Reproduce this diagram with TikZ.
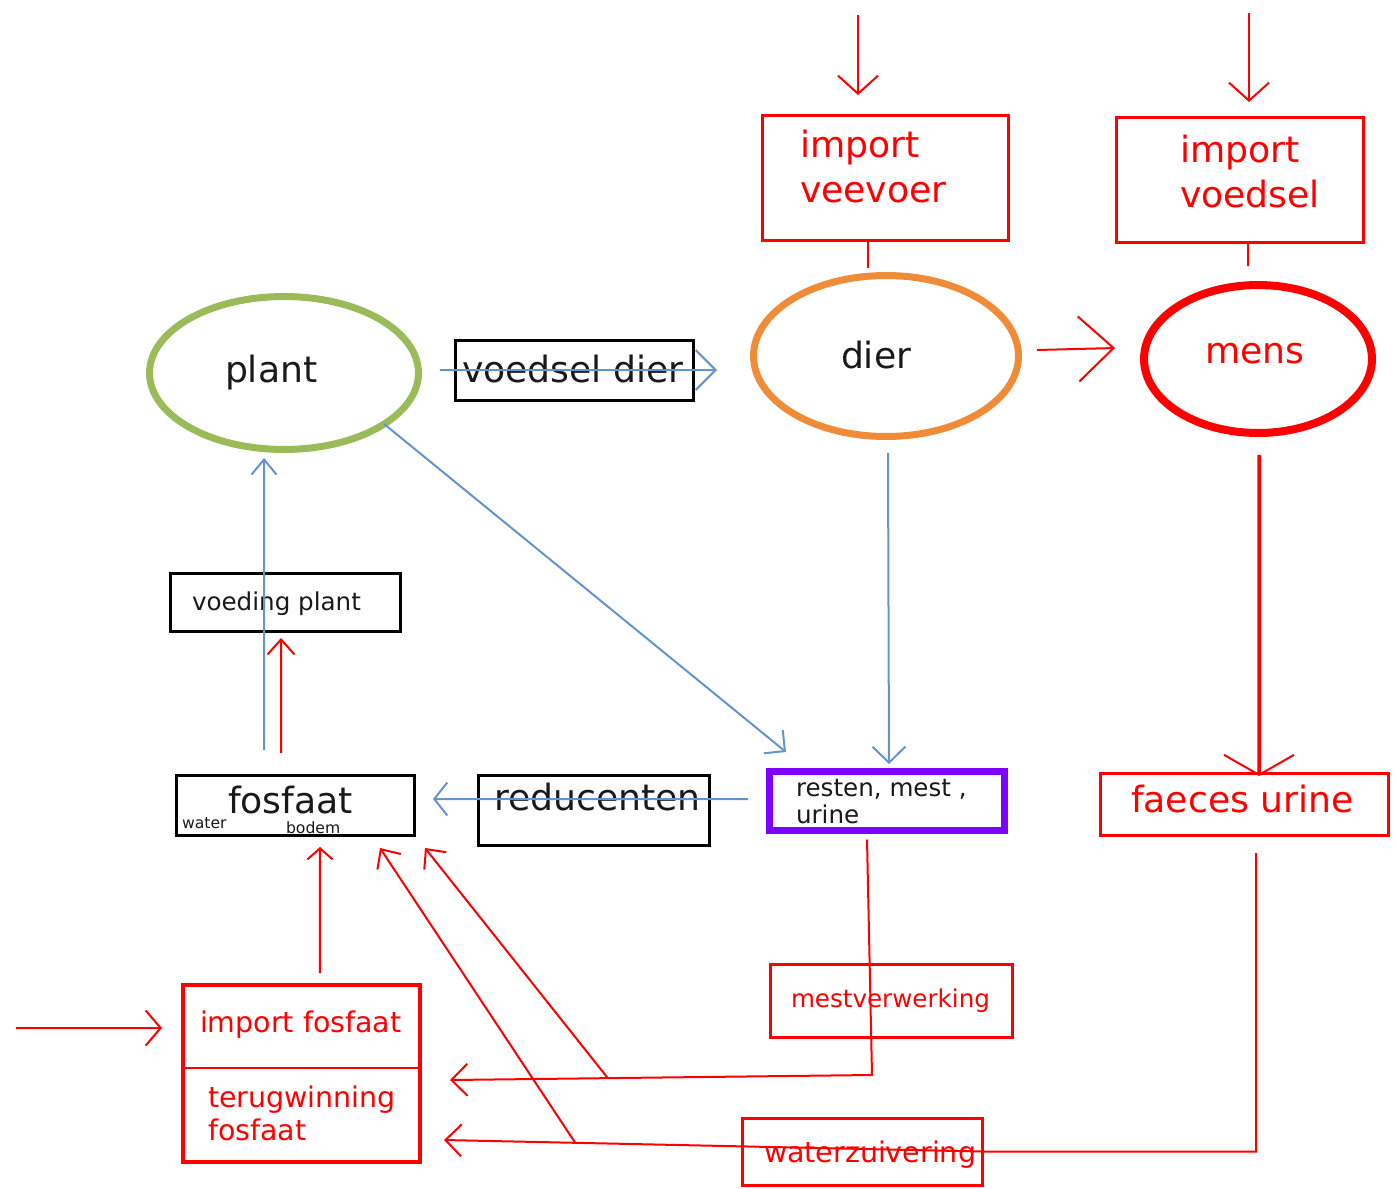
\documentclass[tikz,border=0pt]{standalone}
\usepackage{fontspec}
\setmainfont{DejaVu Sans}
\usetikzlibrary{arrows.meta,shapes.geometric,fit}
\definecolor{pgreen}{RGB}{155,187,89}
\definecolor{porange}{RGB}{240,140,55}
\definecolor{pblue}{RGB}{100,148,205}
\definecolor{ppurple}{RGB}{128,0,255}
\definecolor{pred}{RGB}{255,0,0}
\definecolor{ptext}{RGB}{25,25,25}
\tikzset{
 box/.style={draw=black, line width=0.6mm, inner sep=0pt, outer sep=0pt},
 rbox/.style={draw=pred, line width=0.6mm, inner sep=0pt, outer sep=0pt},
 area/.style={inner sep=0pt, outer sep=0pt},
 ell/.style={ellipse, inner sep=0pt, outer sep=0pt},
 big/.style={font=\fontsize{20.6pt}{24pt}\selectfont},
 mid/.style={font=\fontsize{16.2pt}{19pt}\selectfont},
 small/.style={font=\fontsize{14pt}{16pt}\selectfont},
 tiny/.style={font=\fontsize{8.9pt}{10pt}\selectfont},
 txt/.style={anchor=base west, inner sep=0pt, outer sep=0pt, text=ptext},
 rtxt/.style={txt, text=pred},
 bline/.style={draw=pblue, line width=0.4mm},
 rline/.style={draw=pred, line width=0.4mm},
 barb/.style 2 args={-{Straight Barb[length=#1,width=#2,line width=0.4mm]}},
}
\begin{document}
\begin{tikzpicture}[x=0.02cm,y=-0.02cm]
\useasboundingbox (0,0) rectangle (1397,1188);

% ellipses
\node[ell, draw=pgreen, line width=1.4mm, minimum width=5.38cm, minimum height=3.06cm] (plant) at (284,373) {};
\node[txt,big] (plantt) at (225,382) {plant};
\node[ell, draw=porange, line width=1.4mm, minimum width=5.3cm, minimum height=3.22cm] (dier) at (886,356) {};
\node[txt,big] (diert) at (841,368) {dier};
\node[ell, draw=pred, line width=1.6mm, minimum width=4.56cm, minimum height=2.96cm] (mens) at (1258,359) {};
\node[rtxt,big] (menst) at (1205,363) {mens};

% boxes
\node[box, fit={(455,340) (693,400)}] (vd) {};
\node[txt,big] (vdt) at (462,382) {voedsel dier};

\node[rbox, fit={(762,115) (1008,240)}] (iv) {};
\node[rtxt,big] (ivt1) at (800,157) {import};
\node[rtxt,big] (ivt2) at (800,202) {veevoer};

\node[rbox, fit={(1116,117) (1363,242)}] (ivd) {};
\node[rtxt,big] (ivdt1) at (1180,162) {import};
\node[rtxt,big] (ivdt2) at (1180,207) {voedsel};

\node[box, fit={(170,573) (400,631)}] (vp) {};
\node[txt,small] (vpt) at (192,610) {voeding plant};

\node[box, fit={(176,775) (414,835)}] (fos) {};
\node[txt,big] (fost) at (228,813) {fosfaat};
\node[txt,tiny] (fosw) at (182,828) {water};
\node[txt,tiny] (fosb) at (286,833) {bodem};

\node[box, fit={(478,775) (709,845)}] (red) {};
\node[txt,big] (redt) at (494,810) {reducenten};

\node[draw=ppurple, line width=1.4mm, area, fit={(769.5,771.5) (1004.5,830.5)}] (resten) {};
\node[txt,small] (rest1) at (796,796) {resten, mest ,};
\node[txt,small] (rest2) at (796,823) {urine};

\node[rbox, fit={(1100,773) (1388,835)}] (fu) {};
\node[rtxt,big] (fut) at (1131,812) {faeces urine};

\node[rbox, fit={(770,964) (1012,1037)}] (mv) {};
\node[rtxt,small] (mvt) at (791,1007) {mestverwerking};

\node[rbox, fit={(742,1118) (982,1185)}] (wz) {};
\node[rtxt,mid] (wzt) at (764,1162) {waterzuivering};

\node[area, fit={(183,985) (420,1068)}] (if) {};
\node[area, fit={(183,1068) (420,1162)}] (tf) {};
\node[draw=pred, line width=0.7mm, area, fit={(183,985) (420,1162)}] (ifbox) {};
\draw[rline] (if.south west) -- (if.south east);
\node[rtxt,mid] (ift) at (200,1032) {import fosfaat};
\node[rtxt,mid] (tft1) at (208,1107) {terugwinning};
\node[rtxt,mid] (tft2) at (208,1140) {fosfaat};

% free ends
\coordinate (srcv) at (858,15);
\coordinate (srcf) at (1249,13);
\coordinate (srcp) at (16,1028);

% red connectors
\draw[rline, barb={3.6mm}{8mm}, shorten >=4mm] (srcv) -- (srcv |- iv.north);
\draw[rline, barb={3.6mm}{8mm}, shorten >=3mm] (srcf) -- (srcf |- ivd.north);
\draw[rline] ([xshift=-0.34cm]iv.south) -- ([xshift=-0.36cm,yshift=0.15cm]dier.north);
\draw[rline] ([xshift=0.17cm]ivd.south) -- ([xshift=-0.2cm,yshift=0.38cm]mens.north);
\draw[rline, barb={7mm}{13mm}] ([xshift=0.37cm,yshift=0.12cm]dier.east) -- ([xshift=-0.58cm,yshift=0.22cm]mens.west);
\draw[draw=pred, line width=0.7mm, barb={4mm}{14mm}] ([xshift=0.02cm,yshift=-0.44cm]mens.south) -- ([xshift=0.3cm,yshift=-0.06cm]fu.north);
\draw[rline, barb={3.2mm}{6.4mm}] ([xshift=0.24cm,yshift=-0.36cm]fu.south) |- (wz.east)
   -- coordinate[pos=0.756] (j2) ([xshift=0.48cm,yshift=-0.5cm]tf.east);
\draw[rline, barb={3.2mm}{6.4mm}] ([xshift=-0.4cm,yshift=-0.18cm]resten.south)
   -- ([xshift=-0.38cm,yshift=-0.76cm]mv.south)
   -- coordinate[pos=0.626] (j1) ([xshift=0.6cm,yshift=0.7cm]tf.east);
\draw[rline, barb={3mm}{5.6mm}] (j1) -- ([xshift=0.22cm,yshift=-0.26cm]fos.south east);
\draw[rline, barb={3mm}{5.6mm}] (j2) -- ([xshift=-0.68cm,yshift=-0.26cm]fos.south east);
\draw[rline, barb={2.2mm}{5mm}] ([xshift=0.37cm,yshift=0.24cm]if.north) -- ([xshift=0.5cm,yshift=-0.24cm]fos.south);
\draw[rline, barb={3mm}{7mm}] (srcp) -- ([xshift=-0.42cm,yshift=-0.03cm]if.west);
\draw[rline, barb={3mm}{5.4mm}] ([xshift=-0.28cm,yshift=0.44cm]fos.north) -- ([xshift=-0.08cm,yshift=-0.14cm]vp.south);

% blue connectors
\draw[bline, barb={4mm}{8mm}] ([xshift=0.43cm,yshift=0.06cm]plant.east) -- ([xshift=-0.73cm,yshift=-0.28cm]dier.west);
\draw[bline, barb={3mm}{6mm}] (plant.-27) -- ([xshift=0.33cm,yshift=0.39cm]resten.north west);
\draw[bline, barb={3.2mm}{6.6mm}] ([xshift=0.04cm,yshift=-0.33cm]dier.south) -- ([xshift=0.04cm,yshift=0.15cm]resten.north);
\draw[bline, barb={2.6mm}{6.6mm}] ([xshift=-0.43cm,yshift=0.04cm]resten.west) -- ([xshift=0.38cm,yshift=0.12cm]fos.east);
\draw[bline, barb={3mm}{5mm}] ([xshift=-0.62cm,yshift=0.5cm]fos.north) -- ([xshift=-0.4cm,yshift=-0.17cm]plant.south);
\end{tikzpicture}
\end{document}
